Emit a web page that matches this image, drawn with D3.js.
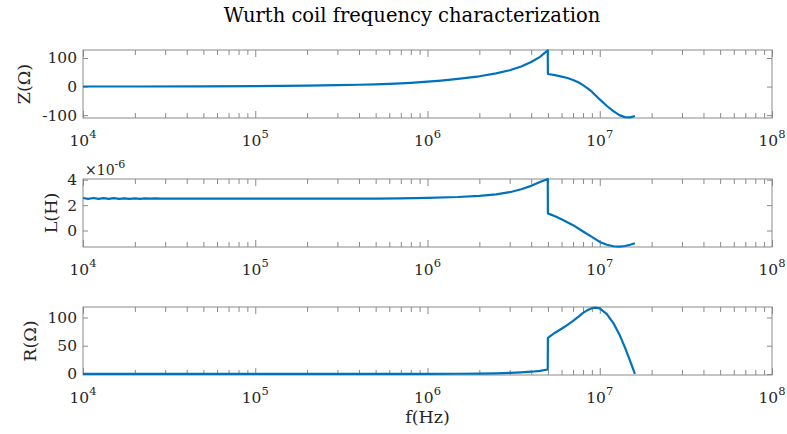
<!DOCTYPE html>
<html>
<head>
<meta charset="utf-8">
<script src="https://cdnjs.cloudflare.com/ajax/libs/d3/7.8.5/d3.min.js"></script>
<style>
  body { margin: 0; background: #fff; }
  svg { display: block; }
  text { font-family: "DejaVu Serif", serif; fill: #262626; }
</style>
</head>
<body>
<svg width="787" height="434"></svg>
<script>
// Z(ohm) vs frequency
var zFreq = [1e4, 2e4, 5e4, 1e5, 2e5, 3e5, 4e5, 5e5, 6e5, 7e5, 8e5, 1e6, 1.2e6, 1.5e6, 2e6, 2.5e6, 3e6, 3.5e6, 4e6, 4.5e6, 4.99e6,
             5e6, 5.5e6, 6e6, 6.5e6, 7e6, 7.5e6, 8e6, 8.5e6, 9e6, 1e7, 1.1e7, 1.2e7, 1.3e7, 1.4e7, 1.5e7, 1.6e7];
var zVal  = [0.2, 0.3, 0.8, 1.6, 3.2, 4.8, 6.4, 8, 9.7, 11.4, 13.2, 17, 21, 27, 36, 46, 57, 70, 86, 104, 127,
             44, 40, 35, 30, 23, 15, 5, -6, -18, -45, -68, -86, -100, -107, -108, -103];

// L(H) in units of 1e-6, slightly noisy at the low end
var lFreq = [1e4, 1.07e4, 1.15e4, 1.23e4, 1.32e4, 1.41e4, 1.51e4, 1.62e4, 1.74e4, 1.86e4, 2e4, 2.14e4, 2.29e4,
             2.45e4, 2.63e4, 2.82e4, 3.02e4, 3.24e4, 4e4, 5e4, 7e4, 1e5, 2e5, 5e5, 7e5, 1e6, 1.5e6, 2e6, 2.5e6,
             3e6, 3.5e6, 4e6, 4.5e6, 4.99e6, 5e6, 5.5e6, 6e6, 7e6, 8e6, 9e6, 1e7, 1.1e7, 1.2e7, 1.3e7, 1.4e7, 1.5e7, 1.6e7];
var lVal  = [2.56, 2.49, 2.56, 2.49, 2.55, 2.49, 2.55, 2.50, 2.54, 2.50, 2.54, 2.50, 2.53,
             2.51, 2.53, 2.51, 2.52, 2.52, 2.52, 2.52, 2.51, 2.51, 2.51, 2.52, 2.54, 2.57, 2.64, 2.73, 2.85,
             3.02, 3.25, 3.52, 3.82, 4.06, 1.35, 1.12, 0.88, 0.42, -0.08, -0.5, -0.9, -1.12, -1.24, -1.27, -1.22, -1.12, -1.0];

// R(ohm)
var rFreq = [1e4, 1e5, 5e5, 1e6, 1.5e6, 2e6, 2.5e6, 3e6, 3.5e6, 4e6, 4.5e6, 4.99e6, 5e6, 5.5e6, 6e6, 6.5e6, 7e6,
             7.5e6, 8e6, 8.5e6, 9e6, 9.5e6, 1e7, 1.1e7, 1.2e7, 1.3e7, 1.4e7, 1.5e7, 1.6e7];
var rVal  = [0.1, 0.1, 0.2, 0.3, 0.4, 0.6, 1.0, 1.8, 2.8, 4, 5.6, 8, 64, 73, 80, 87, 94,
             101, 108, 113, 116.5, 117.5, 116, 106, 90, 70, 47, 23, 0];

var zTicks = [-100, 0, 100], lTicks = [0, 2, 4], rTicks = [0, 50, 100];
var xDecades = [4, 5, 6, 7, 8];

var svg = d3.select("svg"),
    left = 83, right = 772, ph = 68,
    gray = "#8a8a8a", blue = "#0072BD";

var x = d3.scaleLog().domain([1e4, 1e8]).range([left, right]);
var major = xDecades.map(function(e) { return Math.pow(10, e); });
var minor = [];
major.slice(0, -1).forEach(function(d) { for (var k = 2; k < 10; k++) minor.push(d * k); });

var panels = [
  {f: zFreq, v: zVal, top: 50,  dom: [-110, 128],  ticks: zTicks, label: "Z(Ω)", lx: 30},
  {f: lFreq, v: lVal, top: 179, dom: [-1.3, 4.06], ticks: lTicks, label: "L(H)", lx: 57},
  {f: rFreq, v: rVal, top: 307, dom: [-1.8, 118.5], ticks: rTicks, label: "R(Ω)", lx: 36}
];

// title
svg.append("text")
  .attr("x", 412).attr("y", 22)
  .attr("text-anchor", "middle")
  .style("font-size", "19.5px").style("fill", "#000")
  .text("Wurth coil frequency characterization");

panels.forEach(function(p) {
  var bottom = p.top + ph;
  var y = d3.scaleLinear().domain(p.dom).range([bottom, p.top]);
  var g = svg.append("g");

  // x ticks, inward, on bottom and top
  [[d3.axisBottom, bottom], [d3.axisTop, p.top]].forEach(function(a) {
    var ax = g.append("g").attr("transform", "translate(0," + a[1] + ")")
      .call(a[0](x).tickValues(major).tickSize(-7).tickFormat(""));
    ax.select(".domain").remove();
    var mx = g.append("g").attr("transform", "translate(0," + a[1] + ")")
      .call(a[0](x).tickValues(minor).tickSize(-5).tickFormat(""));
    mx.select(".domain").remove();
  });

  // y ticks left (with labels) and right
  var yl = g.append("g").attr("transform", "translate(" + left + ",0)")
    .call(d3.axisLeft(y).tickValues(p.ticks).tickSize(-5).tickPadding(6)
      .tickFormat(function(d) { return String(d); }));
  yl.select(".domain").remove();
  yl.selectAll("text").style("font-size", "15.5px").attr("font-family", null);
  var yr = g.append("g").attr("transform", "translate(" + right + ",0)")
    .call(d3.axisRight(y).tickValues(p.ticks).tickSize(-5).tickFormat(""));
  yr.select(".domain").remove();
  g.selectAll(".tick line").attr("stroke", gray);

  // box
  g.append("rect")
    .attr("x", left).attr("y", p.top)
    .attr("width", right - left).attr("height", ph)
    .attr("fill", "none").attr("stroke", gray);

  // x tick labels 10^n
  var lab = g.selectAll(".xl").data(xDecades).enter().append("text")
    .attr("class", "xl")
    .attr("x", function(e) { return x(Math.pow(10, e)); })
    .attr("y", bottom + 28)
    .attr("text-anchor", "middle")
    .style("font-size", "15.5px");
  lab.append("tspan").text("10");
  lab.append("tspan").attr("dy", -8).style("font-size", "11.5px").text(function(e) { return e; });

  // ylabel
  svg.append("text")
    .attr("transform", "translate(" + p.lx + "," + (p.top + ph / 2) + ") rotate(-90)")
    .attr("text-anchor", "middle")
    .style("font-size", "17.5px")
    .text(p.label);

  // curve
  var line = d3.line()
    .x(function(d, i) { return x(p.f[i]); })
    .y(function(d) { return y(d); });
  g.append("path")
    .datum(p.v)
    .attr("fill", "none")
    .attr("stroke", blue)
    .attr("stroke-width", 2.2)
    .attr("stroke-linejoin", "round")
    .attr("d", line);
});

// exponent note on the L plot
var ex = svg.append("text").attr("x", 85).attr("y", 175).style("font-size", "14px");
ex.append("tspan").text("×10");
ex.append("tspan").attr("dy", -7).style("font-size", "11px").text("-6");

// xlabel
svg.append("text")
  .attr("x", 427.5).attr("y", 423)
  .attr("text-anchor", "middle")
  .style("font-size", "17.5px")
  .text("f(Hz)");
</script>
</body>
</html>
